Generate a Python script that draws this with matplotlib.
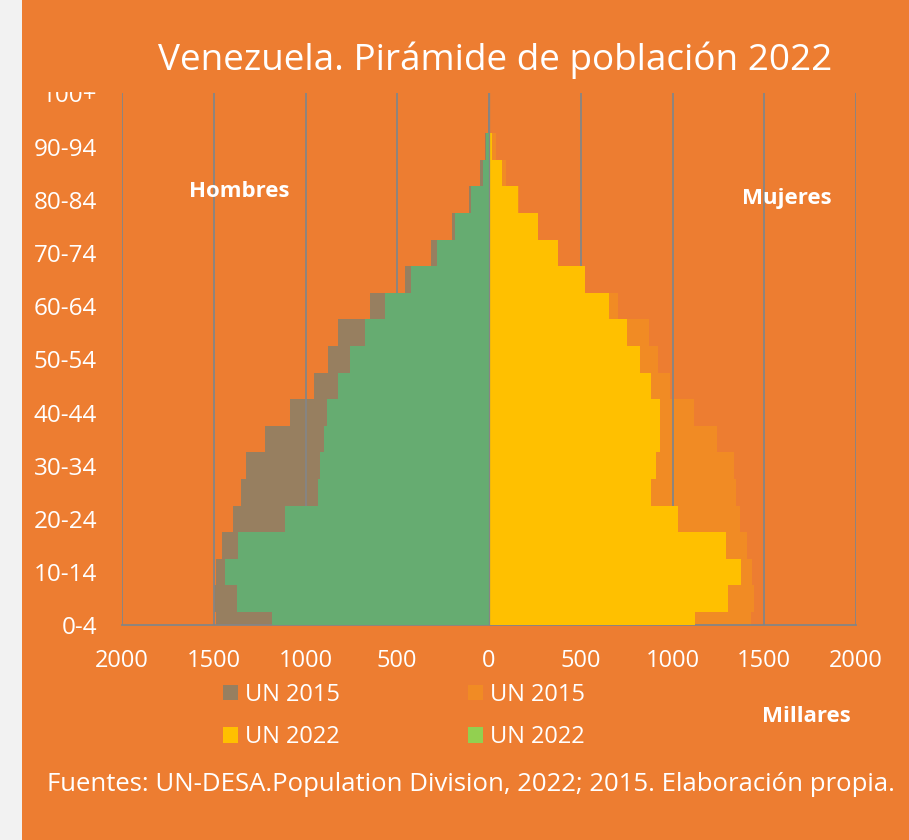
import matplotlib
matplotlib.use("Agg")
import matplotlib.pyplot as plt
from matplotlib.patches import Patch, Rectangle
from matplotlib.transforms import Bbox, TransformedBbox
import numpy as np

plt.rcParams['font.family'] = ['Open Sans', 'DejaVu Sans']

age_groups = ['0-4', '5-9', '10-14', '15-19', '20-24', '25-29', '30-34', '35-39',
              '40-44', '45-49', '50-54', '55-59', '60-64', '65-69', '70-74',
              '75-79', '80-84', '85-89', '90-94', '95-99', '100+']
men_2015 = [1488, 1500, 1488, 1455, 1397, 1353, 1324, 1219, 1084, 954, 879,
            821, 647, 458, 316, 200, 109, 49, 22, 4, 0]
men_2022 = [1183, 1375, 1439, 1370, 1112, 932, 921, 899, 883, 825, 757,
            676, 567, 425, 283, 185, 98, 31, 14, 2, 0]
women_2015 = [1426, 1444, 1433, 1408, 1368, 1344, 1335, 1241, 1115, 986, 921,
              872, 705, 525, 376, 266, 162, 93, 38, 8, 1]
women_2022 = [1123, 1302, 1372, 1290, 1030, 881, 910, 932, 934, 883, 823,
              752, 656, 523, 374, 265, 160, 71, 16, 3, 0]
x_ticks = [-2000, -1500, -1000, -500, 0, 500, 1000, 1500, 2000]
x_tick_labels = ['2000', '1500', '1000', '500', '0', '500', '1000', '1500', '2000']

BG = '#ED7D31'
BROWN = '#977F60'
ORANGE15 = '#F18B24'
YELLOW = '#FFC000'
GREEN_BAR = '#66AC71'
GREEN_LEG = '#92D050'
GRID = '#858585'

fig = plt.figure(figsize=(9.09, 8.40), dpi=100, facecolor=BG)
fig.patches.append(Rectangle((0, 0), 22 / 909, 1, transform=fig.transFigure,
                             facecolor='#F2F2F2', edgecolor='none', zorder=0))

ax = fig.add_axes([122 / 909, 1 - 625.3 / 840, (856 - 122) / 909, (625.3 - 93.3) / 840])
ax.set_facecolor(BG)

y = np.arange(len(age_groups))
ax.barh(y, -np.array(men_2015), height=1.0, color=BROWN, linewidth=0, zorder=1)
ax.barh(y, women_2015, height=1.0, color=ORANGE15, linewidth=0, zorder=1)
ax.barh(y, -np.array(men_2022), height=1.0, color=GREEN_BAR, linewidth=0, zorder=3)
ax.barh(y, women_2022, height=1.0, color=YELLOW, linewidth=0, zorder=3)
ax.axvline(0, color=GRID, linewidth=0.9, zorder=4)

ax.set_xlim(-2000, 2000)
ax.set_ylim(0, 20)
ax.set_xticks(x_ticks)
ax.set_xticklabels(x_tick_labels)
ax.set_yticks(y[::2])
ax.set_yticklabels(age_groups[::2])
ax.tick_params(axis='x', length=0, pad=17, labelsize=17, colors='white')
ax.tick_params(axis='y', length=0, pad=18, labelsize=17.5, colors='white')
ax.xaxis.grid(True, color=GRID, linewidth=1.3, zorder=2)
ax.set_axisbelow(False)
for g in ax.get_xgridlines():
    g.set_zorder(2)
for s in ['top', 'left', 'right']:
    ax.spines[s].set_visible(False)
ax.spines['bottom'].set_color(GRID)
ax.spines['bottom'].set_linewidth(1.3)
ax.spines['bottom'].set_zorder(2)

# the top label is partly cut off in the original chart
clip = TransformedBbox(Bbox([[0, 0], [1, 1 - 91.5 / 840]]), fig.transFigure)
top_label = ax.get_yticklabels()[-1]
top_label.set_clip_on(True)
top_label.set_clip_box(clip)

fig.text(495.5 / 909, 1 - 70 / 840, 'Venezuela. Pirámide de población 2022',
         ha='center', va='baseline', color='white', fontsize=26.6)
fig.text(239.3 / 909, 1 - 197.3 / 840, 'Hombres', ha='center', va='baseline',
         color='white', fontsize=16, fontweight='bold')
fig.text(786.7 / 909, 1 - 204.3 / 840, 'Mujeres', ha='center', va='baseline',
         color='white', fontsize=16, fontweight='bold')
fig.text(806 / 909, 1 - 722 / 840, 'Millares', ha='center', va='baseline',
         color='white', fontsize=16, fontweight='bold')
fig.text(470.5 / 909, 1 - 791 / 840,
         'Fuentes: UN-DESA.Population Division, 2022; 2015. Elaboración propia.',
         ha='center', va='baseline', color='white', fontsize=18.5)

handles = [Patch(facecolor=BROWN, edgecolor='none', label='UN 2015'),
           Patch(facecolor=YELLOW, edgecolor='none', label='UN 2022'),
           Patch(facecolor=ORANGE15, edgecolor='none', label='UN 2015'),
           Patch(facecolor=GREEN_LEG, edgecolor='none', label='UN 2022')]
fig.legend(handles=handles, ncol=2, loc='upper left',
           bbox_to_anchor=(223 / 909, 1 - 683 / 840), frameon=False,
           fontsize=17, labelcolor='white', handlelength=0.62, handleheight=0.62,
           handletextpad=0.3, columnspacing=5.45, labelspacing=0.78,
           borderaxespad=0, borderpad=0)

fig.savefig('out.png', dpi=100, facecolor=BG)
